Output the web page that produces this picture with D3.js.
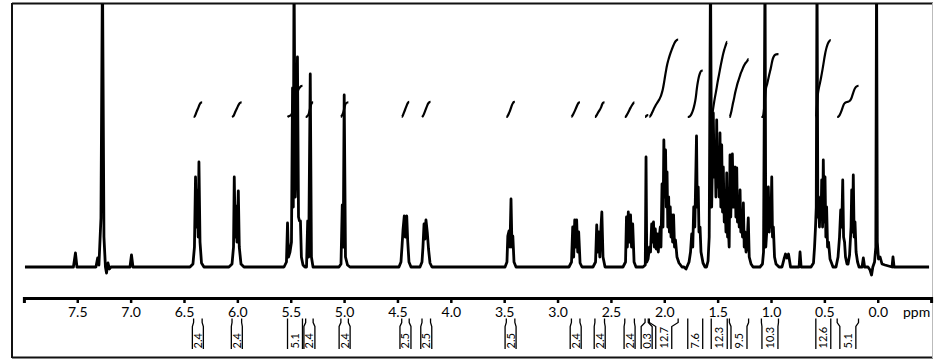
<!DOCTYPE html>
<html><head><meta charset="utf-8">
<script src="https://cdn.jsdelivr.net/npm/d3@7"></script>
<style>body{margin:0;background:#fff}svg{display:block}</style>
</head><body>
<svg id="c" width="941" height="362"></svg>
<script>
// ---- data ----
const ppmTicks = [7.5, 7.0, 6.5, 6.0, 5.5, 5.0, 4.5, 4.0, 3.5, 3.0, 2.5, 2.0, 1.5, 1.0, 0.5, 0.0];
const axisUnit = "ppm";
// [chemical shift (ppm), intensity (a.u.)]
const spectrum = [
[7.990,0],[7.536,0],[7.517,14],[7.503,0],
[7.325,0],[7.309,9],[7.297,2],[7.278,49],[7.264,300],[7.250,30],[7.236,0],[7.226,-6],[7.212,4],[7.198,-2],[7.184,0],
[7.006,0],[6.992,12],[6.978,0],
[6.444,0],[6.416,3],[6.402,20],[6.392,90],[6.383,40],[6.375,77],[6.367,30],[6.360,105],[6.350,25],[6.336,4],[6.313,0],
[6.079,0],[6.050,3],[6.036,20],[6.029,90],[6.020,30],[6.013,61],[6.004,25],[5.991,76],[5.982,20],[5.966,3],[5.938,0],
[5.563,0],[5.540,5],[5.530,44],[5.521,10],[5.507,15],[5.493,25],[5.483,179],[5.476,60],[5.469,300],[5.457,70],[5.449,100],[5.437,210],[5.427,50],[5.418,46],[5.409,46],[5.400,10],[5.385,2],[5.367,0],
[5.352,0],[5.341,46],[5.332,10],[5.317,193],[5.306,10],[5.291,0],
[5.048,0],[5.029,3],[5.017,62],[5.008,20],[4.999,172],[4.987,10],[4.968,2],[4.945,0],
[4.486,0],[4.467,5],[4.457,21],[4.448,37],[4.436,51],[4.427,30],[4.413,51],[4.404,26],[4.392,5],[4.373,0],
[4.289,0],[4.270,5],[4.261,20],[4.251,43],[4.242,28],[4.233,47],[4.220,34],[4.209,18],[4.195,4],[4.177,0],
[3.492,0],[3.474,5],[3.466,31],[3.455,36],[3.446,20],[3.436,68],[3.427,20],[3.419,31],[3.408,5],[3.389,0],
[2.893,0],[2.869,5],[2.858,40],[2.849,10],[2.839,47],[2.830,20],[2.821,47],[2.811,15],[2.802,35],[2.789,4],[2.771,0],
[2.668,0],[2.644,5],[2.633,42],[2.624,15],[2.614,35],[2.604,10],[2.593,40],[2.585,55],[2.574,10],[2.555,0],
[2.387,0],[2.363,5],[2.354,50],[2.346,20],[2.337,55],[2.328,25],[2.316,52],[2.307,20],[2.296,43],[2.283,5],[2.265,0],
[2.199,0],[2.178,2],[2.171,110],[2.164,5],[2.152,8],[2.138,20],[2.129,15],[2.118,43],[2.110,25],[2.101,45],[2.093,20],[2.084,38],[2.075,18],[2.065,33],[2.056,15],[2.047,30],[2.037,40],[2.031,20],[2.021,83],[2.012,40],[2.004,127],[1.996,70],[1.988,117],[1.981,60],[1.974,95],[1.967,40],[1.959,70],[1.952,35],[1.944,60],[1.937,30],[1.929,52],[1.922,25],[1.913,52],[1.904,20],[1.895,27],[1.881,10],[1.862,4],[1.834,0],
[1.815,0],[1.796,-2],[1.768,5],[1.754,15],[1.743,33],[1.733,20],[1.724,60],[1.714,40],[1.705,90],[1.698,131],[1.691,60],[1.682,80],[1.675,35],[1.665,40],[1.656,15],[1.637,4],[1.618,0],
[1.604,0],[1.590,6],[1.579,30],[1.567,300],[1.556,60],[1.548,110],[1.541,154],[1.532,90],[1.524,120],[1.516,70],[1.509,147],[1.501,80],[1.494,120],[1.485,70],[1.478,134],[1.470,60],[1.462,122],[1.454,55],[1.447,100],[1.438,45],[1.431,70],[1.422,35],[1.415,94],[1.407,30],[1.400,40],
[1.392,20],[1.384,112],[1.377,50],[1.369,95],[1.362,113],[1.353,60],[1.346,99],[1.337,100],[1.329,50],[1.321,99],[1.314,45],[1.305,70],[1.298,40],[1.290,77],[1.283,35],[1.275,55],[1.267,30],[1.259,64],[1.251,20],[1.244,35],[1.234,15],[1.225,22],[1.213,49],[1.204,10],[1.187,3],[1.168,0],
[1.103,0],[1.080,3],[1.070,15],[1.056,300],[1.049,20],[1.037,40],[1.025,80],[1.016,35],[1.009,65],[1.002,40],[0.993,90],[0.986,30],[0.978,40],[0.967,10],[0.953,3],[0.925,0],
[0.897,0],[0.878,8],[0.864,13],[0.850,9],[0.836,13],[0.817,0],[0.737,0],[0.728,15],[0.718,0],
[0.625,0],[0.602,4],[0.592,20],[0.583,40],[0.576,60],[0.569,300],[0.561,50],[0.554,70],[0.546,40],[0.539,67],[0.531,50],[0.525,87],[0.517,40],[0.510,107],[0.502,45],[0.494,90],[0.486,30],[0.479,60],[0.470,20],[0.461,25],[0.447,8],[0.419,0],
[0.391,0],[0.372,10],[0.358,30],[0.347,57],[0.337,40],[0.328,87],[0.320,30],[0.311,25],[0.302,10],[0.288,3],[0.278,3],
[0.264,12],[0.250,40],[0.244,77],[0.236,35],[0.229,92],[0.221,30],[0.213,45],[0.203,15],[0.189,5],[0.175,0],
[0.147,0],[0.135,9],[0.123,0],[0.091,0],[0.072,-3],[0.058,-8],[0.046,0],[0.030,5],[0.018,20],[0.011,300],[0.004,25],[-0.007,8],[-0.022,10],[-0.040,3],[-0.068,2],[-0.134,0],[-0.143,10],[-0.153,0],[-0.481,0]
];
const integralFrom   = [6.41, 6.05, 5.53, 5.36, 5.03, 4.46, 4.27, 3.48, 2.87, 2.65, 2.37, 2.18, 2.14, 1.78, 1.56, 1.39, 1.09, 0.58, 0.38];
const integralTo     = [6.33, 5.96, 5.39, 5.29, 4.96, 4.39, 4.19, 3.40, 2.79, 2.56, 2.28, 2.15, 1.87, 1.64, 1.41, 1.21, 0.93, 0.44, 0.18];
const integralValues = [2.4, 2.4, 5.1, 2.4, 2.4, 2.5, 2.5, 2.5, 2.4, 2.4, 2.4, 0.3, 12.7, 7.6, 12.3, 9.5, 10.3, 12.6, 5.1];

// ---- layout ----
const FONT = "Lato, 'Open Sans', sans-serif";
const svg = d3.select("#c");
const x = d3.scaleLinear().domain([8.0, -0.5]).range([23.9, 931.1]);
const y = d3.scaleLinear().domain([0, 264]).range([267, 3]);
const integralBase = 150, integralScale = 6.1;

// frame
svg.append("line").attr("x1", 12).attr("x2", 933).attr("y1", 3.5).attr("y2", 3.5).attr("stroke", "#111").attr("stroke-width", 2);
svg.append("line").attr("x1", 12).attr("x2", 12).attr("y1", 3).attr("y2", 358).attr("stroke", "#111").attr("stroke-width", 2);
svg.append("line").attr("x1", 12).attr("x2", 933).attr("y1", 357.5).attr("y2", 357.5).attr("stroke", "#111").attr("stroke-width", 2);
svg.append("line").attr("x1", 932.5).attr("x2", 932.5).attr("y1", 3).attr("y2", 358).attr("stroke", "#bbb").attr("stroke-width", 1);

svg.append("clipPath").attr("id", "plotclip").append("rect").attr("x", 13).attr("y", 4).attr("width", 919).attr("height", 286);
const plot = svg.append("g").attr("clip-path", "url(#plotclip)");

// spectrum
const line = d3.line().x(d => x(d[0])).y(d => y(d[1]));
plot.append("path").datum(spectrum).attr("d", line)
  .attr("fill", "none").attr("stroke", "#000").attr("stroke-width", 2.8).attr("stroke-linejoin", "round");

// integral curves (cumulative area of the spectrum within each range)
const intLine = d3.line().x(d => x(d[0])).y(d => y(d[1])).curve(d3.curveBasis);
integralValues.forEach((v, i) => {
  const f = integralFrom[i], t = integralTo[i];
  const pts = spectrum.filter(d => d[0] <= f && d[0] >= t);
  let cum = 0; const cums = [0];
  for (let j = 1; j < pts.length; j++) {
    cum += (Math.max(0, pts[j][1]) + Math.max(0, pts[j-1][1])) / 2 * (pts[j-1][0] - pts[j][0]);
    cums.push(cum);
  }
  const total = cum || 1;
  const rise = v * integralScale;
  const c = [[f, integralBase]];
  pts.forEach((d, j) => c.push([d[0], integralBase + rise * cums[j] / total]));
  c.push([t, integralBase + rise]);
  plot.append("path").datum(c).attr("d", intLine)
    .attr("fill", "none").attr("stroke", "#000").attr("stroke-width", 2.2);
});

// axis
const axis = d3.axisBottom(x).tickValues(ppmTicks).tickFormat(d3.format(".1f"))
  .tickSize(5).tickSizeOuter(5).tickPadding(4);
const ag = svg.append("g").attr("transform", "translate(0,298)").call(axis);
ag.select(".domain").attr("stroke", "#000").attr("stroke-width", 3);
ag.selectAll(".tick line").attr("stroke", "#000").attr("stroke-width", 2.5);
ag.selectAll(".tick text").attr("font-family", FONT).attr("font-size", 14).attr("fill", "#000");
svg.append("text").attr("x", 903).attr("y", 317).attr("font-family", FONT).attr("font-size", 14).text(axisUnit);

// integral brackets & labels
const bg = svg.append("g");
integralValues.forEach((v, i) => {
  const xf = x(integralFrom[i]), xt = x(integralTo[i]);
  const c = (xf + xt) / 2;
  const half = Math.max(5.5, Math.min((xt - xf) / 2, 8));
  bg.append("path")
    .attr("d", `M${xf},318.5V322.5L${c - half},326.5V349M${xt},318.5V322.5L${c + half},326.5V349`)
    .attr("fill", "none").attr("stroke", "#000").attr("stroke-width", 1.3);
  bg.append("text").attr("transform", `translate(${c},348.5) rotate(-90)`)
    .attr("dy", "0.36em").attr("font-family", FONT).attr("font-size", 11).attr("fill", "#000")
    .text(d3.format(".1f")(v));
});
</script>
</body></html>
